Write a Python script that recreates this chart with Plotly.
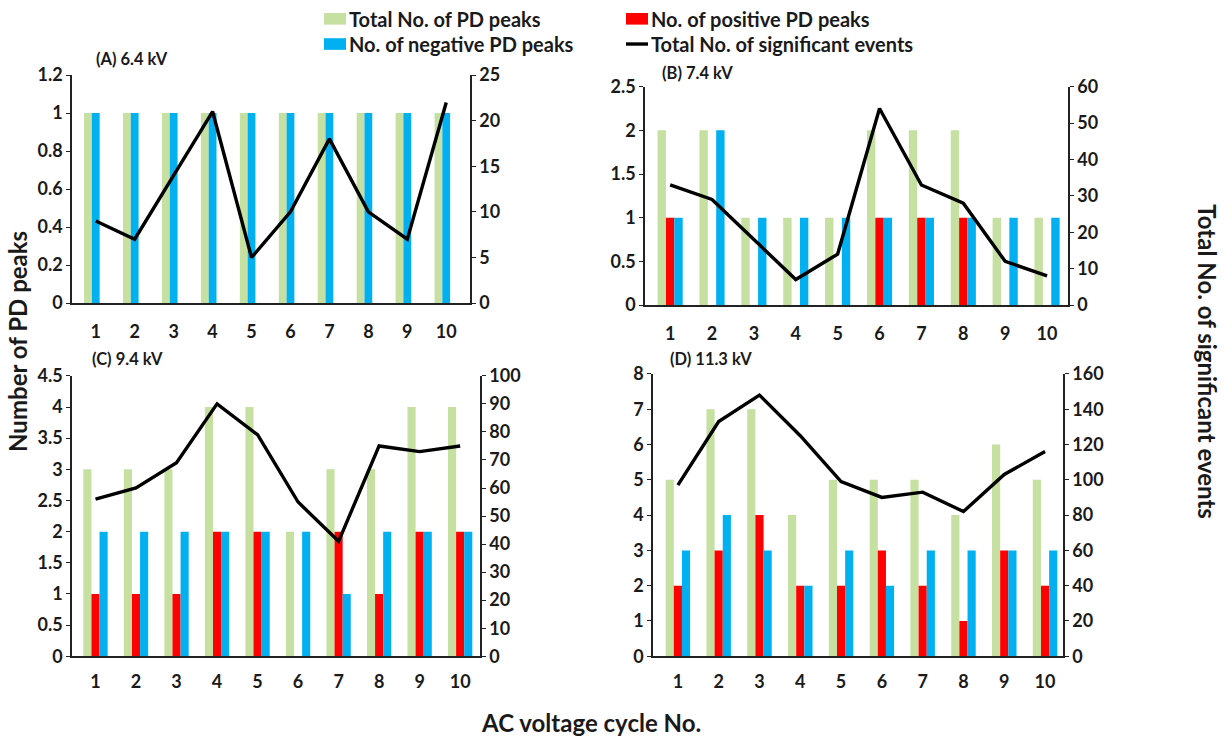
import plotly.graph_objects as go

cycles = [1, 2, 3, 4, 5, 6, 7, 8, 9, 10]

# Panel A: 6.4 kV
a_total = [1, 1, 1, 1, 1, 1, 1, 1, 1, 1]
a_neg = [1, 1, 1, 1, 1, 1, 1, 1, 1, 1]
a_events = [9, 7, 14, 21, 5, 10, 18, 10, 7, 22]

# Panel B: 7.4 kV
b_total = [2, 2, 1, 1, 1, 2, 2, 2, 1, 1]
b_pos = [1, 0, 0, 0, 0, 1, 1, 1, 0, 0]
b_neg = [1, 2, 1, 1, 1, 1, 1, 1, 1, 1]
b_events = [33, 29, 18, 7, 14, 54, 33, 28, 12, 8]

# Panel C: 9.4 kV
c_total = [3, 3, 3, 4, 4, 2, 3, 3, 4, 4]
c_pos = [1, 1, 1, 2, 2, 0, 2, 1, 2, 2]
c_neg = [2, 2, 2, 2, 2, 2, 1, 2, 2, 2]
c_events = [56, 60, 69, 90, 79, 55, 41, 75, 73, 75]

# Panel D: 11.3 kV
d_total = [5, 7, 7, 4, 5, 5, 5, 4, 6, 5]
d_pos = [2, 3, 4, 2, 2, 3, 2, 1, 3, 2]
d_neg = [3, 4, 3, 2, 3, 2, 3, 3, 3, 3]
d_events = [97, 133, 148, 125, 99, 90, 93, 82, 103, 116]

legend_labels = ["Total No. of PD peaks", "No. of positive PD peaks",
                 "No. of negative PD peaks", "Total No. of significant events"]

GREEN = "#C5E0A0"
RED = "#FF0000"
BLUE = "#00B0F0"
INK = "#1a1a1a"
W, H = 1229, 740
FONT = "Lato"

panels = [
    dict(title="(A) 6.4 kV", total=a_total, pos=None, neg=a_neg, ev=a_events,
         px=(72, 470), py=(65, 300), xr=(0.39, 10.61), yl=(0, 1.2, 0.2), yr=(0, 25, 5),
         lab=(94, 48), goff=-0.3, noff=-0.1, stand=12),
    dict(title="(B) 7.4 kV", total=b_total, pos=b_pos, neg=b_neg, ev=b_events,
         px=(645, 1068), py=(77, 302), xr=(0.4, 10.5), yl=(0, 2.5, 0.5), yr=(0, 60, 10),
         lab=(660, 63), goff=-0.3, noff=0.1, stand=12),
    dict(title="(C) 9.4 kV", total=c_total, pos=c_pos, neg=c_neg, ev=c_events,
         px=(72, 480), py=(375, 664), xr=(0.42, 10.49), yl=(0, 4.5, 0.5), yr=(0, 100, 10),
         lab=(90, 358), goff=-0.3, noff=0.1, stand=8),
    dict(title="(D) 11.3 kV", total=d_total, pos=d_pos, neg=d_neg, ev=d_events,
         px=(653, 1063), py=(373, 664), xr=(0.39, 10.44), yl=(0, 8, 1), yr=(0, 160, 20),
         lab=(668, 358), goff=-0.3, noff=0.1, stand=8),
]

tickfont = dict(family=FONT, size=18, color=INK, weight="bold")
fig = go.Figure()
layout = {}
annotations = []
shapes = []

for i, p in enumerate(panels):
    xa = f"x{i+1}" if i else "x"
    yl = f"y{2*i+1}" if i else "y"
    yr = f"y{2*i+2}"
    fig.add_trace(go.Bar(x=cycles, y=p["total"], width=0.2, offset=p["goff"],
                         marker_color=GREEN, marker_line_width=0, name=legend_labels[0],
                         xaxis=xa, yaxis=yl, showlegend=False))
    if p["pos"] is not None:
        fig.add_trace(go.Bar(x=cycles, y=p["pos"], width=0.2, offset=-0.1,
                             marker_color=RED, marker_line_width=0, name=legend_labels[1],
                             xaxis=xa, yaxis=yl, showlegend=False))
    fig.add_trace(go.Bar(x=cycles, y=p["neg"], width=0.2, offset=p["noff"],
                         marker_color=BLUE, marker_line_width=0, name=legend_labels[2],
                         xaxis=xa, yaxis=yl, showlegend=False))
    fig.add_trace(go.Scatter(x=cycles, y=p["ev"], mode="lines",
                             line=dict(color="black", width=3.4), name=legend_labels[3],
                             xaxis=xa, yaxis=yr, showlegend=False))

    xd = [p["px"][0] / W, p["px"][1] / W]
    yd = [1 - p["py"][1] / H, 1 - p["py"][0] / H]
    xkey = "xaxis" if i == 0 else f"xaxis{i+1}"
    ylkey = "yaxis" if i == 0 else f"yaxis{2*i+1}"
    yrkey = f"yaxis{2*i+2}"
    layout[xkey] = dict(domain=xd, anchor=yl, range=list(p["xr"]), tickvals=cycles,
                        showline=True, linecolor="#222", linewidth=1.5, showgrid=False,
                        zeroline=False, ticks="", tickfont=tickfont,
                        ticklabelstandoff=p["stand"])
    layout[ylkey] = dict(domain=yd, anchor=xa, range=[p["yl"][0], p["yl"][1]], dtick=p["yl"][2],
                         tick0=0, showline=True, linecolor="#222", linewidth=1.5, showgrid=False,
                         zeroline=False, ticks="outside", ticklen=4, tickwidth=1.2,
                         tickcolor="#222", tickfont=tickfont)
    layout[yrkey] = dict(overlaying=yl, side="right", anchor=xa, range=[p["yr"][0], p["yr"][1]],
                         dtick=p["yr"][2], tick0=0, showline=True, linecolor="#222", linewidth=1.5,
                         showgrid=False, zeroline=False, ticks="outside", ticklen=4,
                         tickwidth=1.2, tickcolor="#222", tickfont=tickfont)
    annotations.append(dict(text=p["title"], x=p["lab"][0] / W, y=1 - p["lab"][1] / H,
                            xref="paper", yref="paper", xanchor="left", yanchor="middle",
                            showarrow=False,
                            font=dict(family=FONT, size=16.5, color=INK, weight="bold")))

titlefont = dict(family=FONT, size=24, color=INK, weight="bold")
annotations += [
    dict(text="Number of PD peaks", x=18 / W, y=1 - 340 / H, xref="paper", yref="paper",
         textangle=-90, showarrow=False, font=titlefont, xanchor="center", yanchor="middle"),
    dict(text="Total No. of significant events", x=1208 / W, y=1 - 360 / H, xref="paper",
         yref="paper", textangle=90, showarrow=False, font=titlefont,
         xanchor="center", yanchor="middle"),
    dict(text="AC voltage cycle No.", x=591 / W, y=1 - 732 / H, xref="paper", yref="paper",
         showarrow=False, font=titlefont, xanchor="center", yanchor="middle"),
]

# custom legend (2 x 2 grid)
legfont = dict(family=FONT, size=20, color=INK, weight="bold")
leg_items = [
    (legend_labels[0], GREEN, "box", 324, 7),
    (legend_labels[1], RED, "box", 626, 7),
    (legend_labels[2], BLUE, "box", 324, 33),
    (legend_labels[3], "black", "line", 626, 33),
]
for text, col, kind, lx, ly in leg_items:
    if kind == "box":
        shapes.append(dict(type="rect", xref="paper", yref="paper",
                           x0=lx / W, x1=(lx + 22) / W, y0=1 - (ly + 6) / H, y1=1 - (ly - 6) / H,
                           fillcolor=col, line=dict(width=0)))
    else:
        shapes.append(dict(type="line", xref="paper", yref="paper",
                           x0=lx / W, x1=(lx + 22) / W, y0=1 - ly / H, y1=1 - ly / H,
                           line=dict(color=col, width=3.4)))
    annotations.append(dict(text=text, x=(lx + 23) / W, y=1 - ly / H, xref="paper",
                            yref="paper", xanchor="left", yanchor="middle", showarrow=False,
                            font=legfont))

fig.update_layout(
    width=W, height=H, margin=dict(l=0, r=0, t=0, b=0),
    paper_bgcolor="white", plot_bgcolor="white",
    barmode="overlay", annotations=annotations, shapes=shapes, showlegend=False,
    **layout,
)

fig.write_html("out.html")
